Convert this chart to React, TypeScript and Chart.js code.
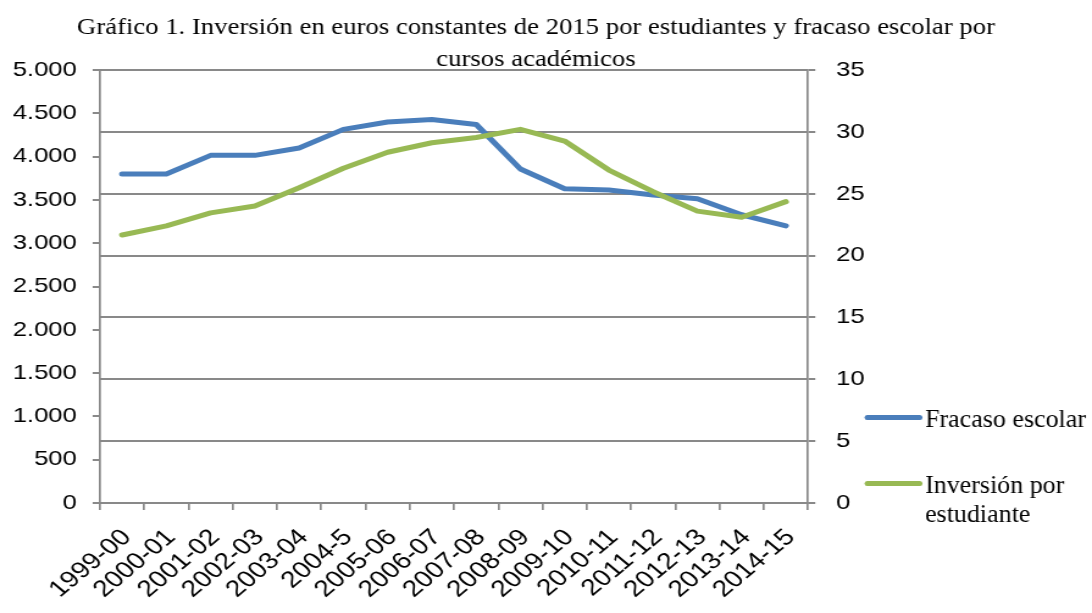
import { useEffect, useRef } from 'react';
import { Chart, registerables } from 'chart.js';

Chart.register(...registerables);

const categories = [
  '1999-00', '2000-01', '2001-02', '2002-03', '2003-04', '2004-5', '2005-06', '2006-07',
  '2007-08', '2008-09', '2009-10', '2010-11', '2011-12', '2012-13', '2013-14', '2014-15',
];
const fracasoEscolar = [26.6, 26.6, 28.1, 28.1, 28.7, 30.2, 30.8, 31.0, 30.6, 27.0, 25.4, 25.3, 24.9, 24.6, 23.3, 22.4];
const inversionPorEstudiante = [3095, 3200, 3350, 3430, 3640, 3865, 4050, 4160, 4220, 4315, 4180, 3845, 3595, 3370, 3300, 3480];
const leftTickLabels = ['0', '500', '1.000', '1.500', '2.000', '2.500', '3.000', '3.500', '4.000', '4.500', '5.000'];
const rightTickLabels = ['0', '5', '10', '15', '20', '25', '30', '35'];
const titleLines = [
  'Gráfico 1. Inversión en euros constantes de 2015 por estudiantes y fracaso escolar por',
  'cursos académicos',
];
const seriesNames = ['Fracaso escolar', 'Inversión por estudiante'];
const legendLines = [['Fracaso escolar'], ['Inversión por', 'estudiante']];

const CSS_W = 1092;
const CSS_H = 613;
const CANVAS_W = 895;
const S = CSS_W / CANVAS_W;
const BLUE = '#4A7EBB';
const GREEN = '#98B954';
const GRID = '#898989';
const TICK_FONT = { family: '"Liberation Sans", Arial, sans-serif', size: 21 };
const X_TICK_FONT = { family: '"Liberation Sans", Arial, sans-serif', size: 23 };
const SERIF = '"Liberation Serif", "Times New Roman", serif';

const overlay = {
  id: 'overlay',
  afterDraw(chart: any) {
    const ctx: CanvasRenderingContext2D = chart.ctx;
    ctx.save();
    ctx.setTransform(1 / S, 0, 0, 1, 0, 0);
    ctx.fillStyle = '#000';
    // title
    ctx.font = `24px ${SERIF}`;
    const w1 = ctx.measureText(titleLines[0]).width;
    const sx = 918 / w1;
    ctx.save();
    ctx.translate(536, 0);
    ctx.scale(sx, 1);
    ctx.textAlign = 'center';
    ctx.textBaseline = 'alphabetic';
    ctx.fillText(titleLines[0], 0, 34);
    ctx.fillText(titleLines[1], 0, 66);
    ctx.restore();
    // legend
    const colors = [BLUE, GREEN];
    const lineY = [417.5, 483.5];
    const baseY = [427, 493];
    ctx.font = `26px ${SERIF}`;
    ctx.textAlign = 'left';
    legendLines.forEach((lines, i) => {
      ctx.strokeStyle = colors[i];
      ctx.lineWidth = 5;
      ctx.lineCap = 'round';
      ctx.beginPath();
      ctx.moveTo(867, lineY[i]);
      ctx.lineTo(920, lineY[i]);
      ctx.stroke();
      lines.forEach((t, j) => {
        ctx.fillText(t, 925, baseY[i] + j * 29);
      });
    });
    ctx.restore();
  },
};

export default function App() {
  const ref = useRef<HTMLCanvasElement | null>(null);
  useEffect(() => {
    if (!ref.current) return;
    const chart = new Chart(ref.current, {
      type: 'line',
      data: {
        labels: categories,
        datasets: [
          {
            label: seriesNames[0],
            data: fracasoEscolar,
            yAxisID: 'y1',
            borderColor: BLUE,
            backgroundColor: BLUE,
            borderWidth: 5,
            pointRadius: 0,
            tension: 0,
            borderCapStyle: 'round',
            borderJoinStyle: 'round',
            order: 2,
          },
          {
            label: seriesNames[1],
            data: inversionPorEstudiante,
            yAxisID: 'y',
            borderColor: GREEN,
            backgroundColor: GREEN,
            borderWidth: 5,
            pointRadius: 0,
            tension: 0,
            borderCapStyle: 'round',
            borderJoinStyle: 'round',
            order: 1,
          },
        ],
      },
      options: {
        animation: false,
        responsive: false,
        devicePixelRatio: 1,
        layout: { padding: { top: 70, left: 0, right: 0, bottom: 0 } },
        plugins: {
          legend: { display: false },
          title: { display: false },
          tooltip: { enabled: false },
        },
        scales: {
          x: {
            type: 'category',
            offset: true,
            grid: { offset: true, drawOnChartArea: false, drawTicks: true, tickLength: 7, color: GRID, lineWidth: 1.7 },
            border: { display: true, color: GRID, width: 2 },
            ticks: {
              autoSkip: false,
              minRotation: 45,
              maxRotation: 45,
              color: '#000',
              font: X_TICK_FONT,
              padding: 14,
              labelOffset: 4,
            },
            afterFit: (s: any) => { s.height = 110; },
          },
          y: {
            position: 'left',
            min: 0,
            max: 5000,
            ticks: {
              stepSize: 500,
              color: '#000',
              font: TICK_FONT,
              padding: 13,
              callback: (_v: any, i: number) => leftTickLabels[i],
            },
            grid: { drawOnChartArea: false, drawTicks: true, tickLength: 6, color: GRID, lineWidth: 2 },
            border: { display: true, color: GRID, width: 1.7 },
            afterFit: (s: any) => { s.width = 100 / S; },
          },
          y1: {
            position: 'right',
            min: 0,
            max: 35,
            ticks: {
              stepSize: 5,
              color: '#000',
              font: TICK_FONT,
              padding: 17,
              callback: (_v: any, i: number) => rightTickLabels[i],
            },
            grid: { drawOnChartArea: true, drawTicks: true, tickLength: 6, color: GRID, lineWidth: 2 },
            border: { display: true, color: GRID, width: 1.7 },
            afterFit: (s: any) => { s.width = CANVAS_W - 808 / S; },
          },
        },
      } as any,
      plugins: [overlay],
    });
    return () => chart.destroy();
  }, []);
  return (
    <div style={{ position: 'fixed', left: 0, top: 0, width: CSS_W, height: CSS_H, background: '#fff' }}>
      <canvas
        ref={ref}
        width={CANVAS_W}
        height={CSS_H}
        style={{ width: `${CSS_W}px`, height: `${CSS_H}px` }}
      />
    </div>
  );
}
